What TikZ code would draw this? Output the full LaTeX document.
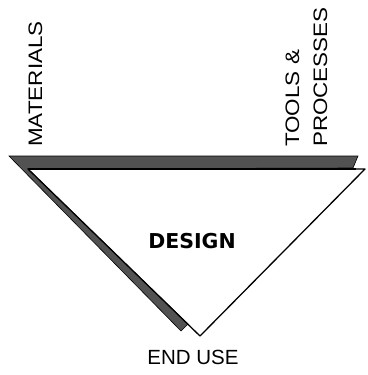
\documentclass[tikz,border=0pt]{standalone}
\usepackage{fontspec}
\usetikzlibrary{positioning}
\setmainfont{Liberation Sans}
\newfontfamily\widefont[FakeStretch=1.15]{Liberation Sans}
\newfontfamily\boldfont{DejaVu Sans Bold}
\begin{document}
\begin{tikzpicture}
[x=1pt, y=-1pt]
\tikzstyle{sidelabel}=[rotate=90, anchor=base west, inner sep=0pt, font=\widefont\fontsize{19.5}{20}\selectfont]
\tikzstyle{hatch}=[fill=black!68, draw=black, line width=0.6pt]
\useasboundingbox (0,0) rectangle (367,375);

\coordinate (L) at (28,169);
\coordinate (R) at (365,169);
\coordinate (B) at (200,336);

% shaded band along the top and the left side
\draw[hatch] (9,156) -- (358,156) -- (353,168) -- (L) -- (188,324) -- (181,331) -- cycle;
\draw[line width=1.3pt, line join=round] (L) -- (R) -- (B) -- cycle;
\draw[line width=2.6pt] (L) -- (356,169);

\node[sidelabel]	(mat)	at (42,147)	{MATERIALS};
\node[sidelabel]	(tools)	at (299,147)	{TOOLS \&};
\node[sidelabel]	(proc)	at (327,147)	{PROCESSES};

\node[anchor=base, inner sep=0pt, font=\boldfont\fontsize{20.5}{21}\selectfont]	(design)	at (192,248)	{DESIGN};
\node[inner sep=0pt, font=\fontsize{20.5}{21}\selectfont]	(enduse)	[below=14pt of B, xshift=-7pt]	{END USE};
\end{tikzpicture}
\end{document}
